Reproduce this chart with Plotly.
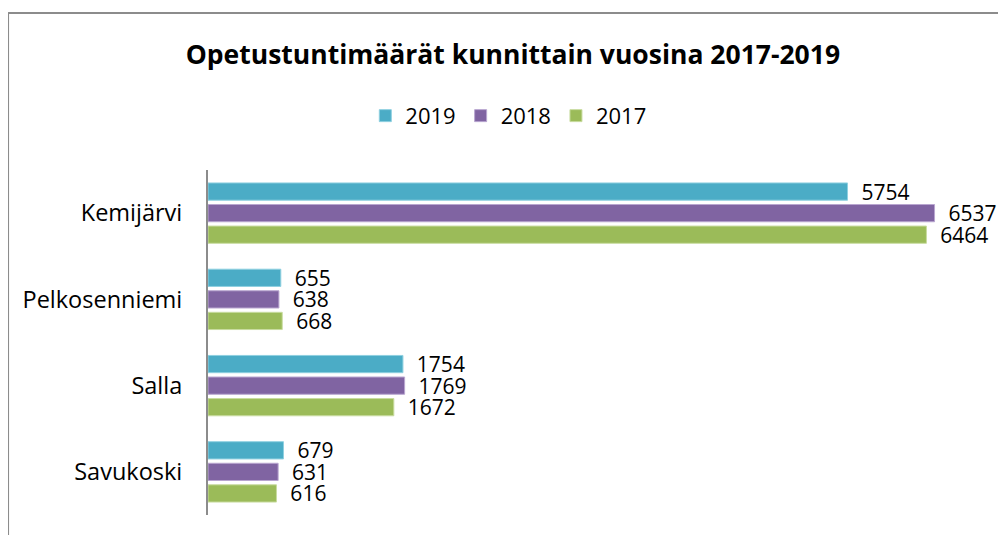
import plotly.graph_objects as go

municipalities = ["Kemijärvi", "Pelkosenniemi", "Salla", "Savukoski"]
hours_2019 = [5754, 655, 1754, 679]
hours_2018 = [6537, 638, 1769, 631]
hours_2017 = [6464, 668, 1672, 616]

series = [
    ("2019", hours_2019, "#4BACC6", "#8fd0e0"),
    ("2018", hours_2018, "#8064A2", "#b9a6d0"),
    ("2017", hours_2017, "#9BBB59", "#c9dca0"),
]

fig = go.Figure()
for name, vals, color, edge in series:
    fig.add_trace(go.Bar(
        y=municipalities,
        x=vals,
        name=name,
        orientation="h",
        marker=dict(color=color, line=dict(color=edge, width=1)),
        text=vals,
        texttemplate="  %{x}",
        textposition="outside",
        constraintext="none",
        textfont=dict(size=21, color="#000000"),
        cliponaxis=False,
    ))

# the page body adds an 8px margin, so the figure sits 8px in from the corner
fig.update_layout(
    width=990,
    height=527,
    paper_bgcolor="white",
    plot_bgcolor="white",
    font=dict(family="'Open Sans', sans-serif", size=22, color="#000000"),
    title=dict(
        text="<b>Opetustuntimäärät kunnittain vuosina 2017-2019</b>",
        x=0.510, xanchor="center",
        y=0.911, yanchor="middle",
        font=dict(size=26.5),
    ),
    legend=dict(
        orientation="h",
        x=0.386, xanchor="center",
        y=1.157, yanchor="middle",
        font=dict(size=22),
        traceorder="normal",
        itemwidth=30,
    ),
    barmode="group",
    bargap=0.25,
    bargroupgap=0.2,
    margin=dict(l=200, r=12, t=162, b=20, autoexpand=False),
    showlegend=True,
    shapes=[
        dict(type="line", xref="paper", yref="paper",
             x0=-0.257, x1=-0.257, y0=-0.2, y1=1.455,
             line=dict(color="#8c8c8c", width=2)),
        dict(type="line", xref="paper", yref="paper",
             x0=-0.257, x1=1.1, y0=1.455, y1=1.455,
             line=dict(color="#8c8c8c", width=2)),
    ],
)

fig.update_xaxes(range=[0, 7000], visible=False, showgrid=False)
fig.update_yaxes(
    autorange="reversed", automargin=False,
    showline=True, linecolor="#8c8c8c", linewidth=2,
    ticks="", ticklabelstandoff=19,
    tickfont=dict(size=23.5),
    showgrid=False,
)

fig.write_html("out.html", post_script="document.body.style.overflow='hidden';")
